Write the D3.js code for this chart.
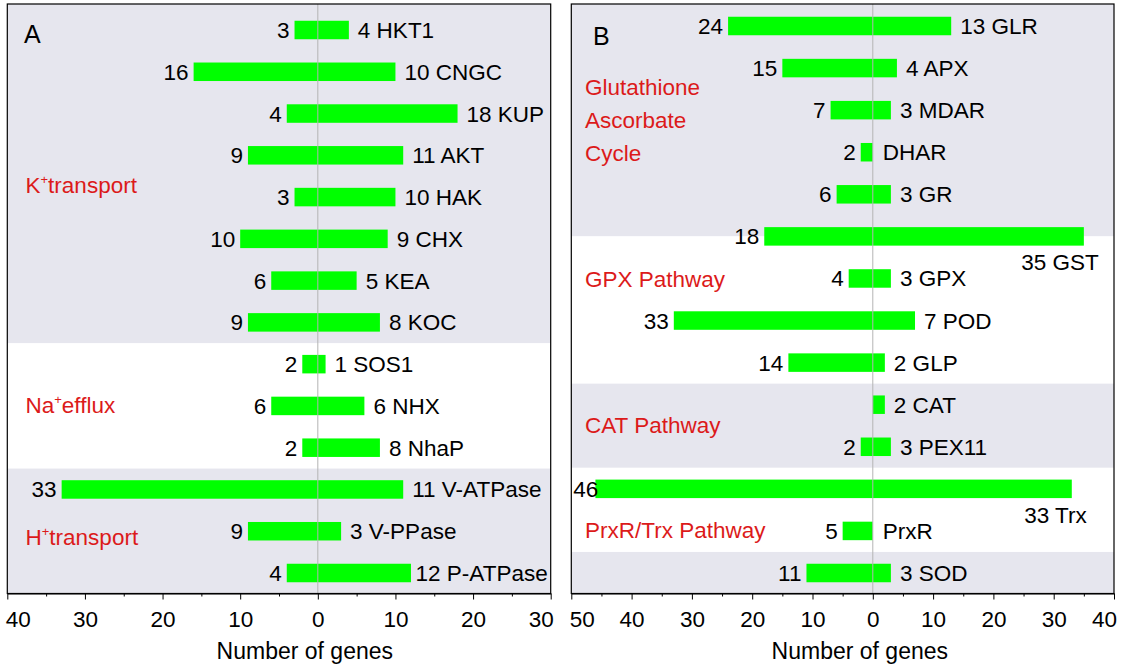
<!DOCTYPE html>
<html><head><meta charset="utf-8">
<script src="https://cdn.jsdelivr.net/npm/d3@7"></script>
<style>body{margin:0;background:#fff}svg{display:block}text{font-family:"Liberation Sans",Arial,sans-serif}</style>
</head><body><svg id="c" width="1121" height="668"></svg>
<script>
// ---- data ----
const namesA = ["HKT1","CNGC","KUP","AKT","HAK","CHX","KEA","KOC","SOS1","NHX","NhaP","V-ATPase","V-PPase","P-ATPase"];
const leftA  = [3,16,4,9,3,10,6,9,2,6,2,33,9,4];
const rightA = [4,10,18,11,10,9,5,8,1,6,8,11,3,12];
const groupNamesA = ["K+transport","Na+efflux","H+transport"];

const namesB = ["GLR","APX","MDAR","DHAR","GR","GST","GPX","POD","GLP","CAT","PEX11","Trx","PrxR","SOD"];
const leftB  = [24,15,7,2,6,18,4,33,14,0,2,46,5,11];
const rightB = [13,4,3,0,3,35,3,7,2,2,3,33,0,3];
const groupNamesB = ["Glutathione\nAscorbate\nCycle","GPX Pathway","CAT Pathway","PrxR/Trx Pathway",""];

const ticksA = [-40,-30,-20,-10,0,10,20,30];
const ticksB = [-50,-40,-30,-20,-10,0,10,20,30,40];
const axisTitle = "Number of genes";

// ---- layout ----
const svg = d3.select("#c");
svg.append("rect").attr("width",1121).attr("height",668).attr("fill","#fff");
const FS = 22.5, RED = "#dc1a1a", GRAY = "#e6e6ee", GREEN = "#00ff00";

const panels = [
  {id:"A", names:namesA, left:leftA, right:rightA, groups:groupNamesA, ticks:ticksA,
   x0:7.3, x1:550.7, top:4, bottom:593.5, rowRange:[30,573],
   bands:[[null,7.5,true],[7.5,10.5,false],[10.5,null,true]],
   labelRows:[3.9,9.17,12.33], labelX:25.5, letterX:24, letterY:42.7},
  {id:"B", names:namesB, left:leftB, right:rightB, groups:groupNamesB, ticks:ticksB,
   x0:571.3, x1:1114, top:4, bottom:593.5, rowRange:[26,573],
   bands:[[null,5,true],[5,8.5,false],[8.5,10.5,true],[10.5,12.5,false],[12.5,null,true]],
   labelRows:[1.64,6.2,9.68,12.17,null], labelX:585, letterX:593, letterY:45}
];

panels.forEach(p => {
  const xs = d3.scaleLinear().domain([p.ticks[0], p.ticks[p.ticks.length-1]]).range([p.x0, p.x1]);
  const ys = d3.scaleLinear().domain([0, p.names.length-1]).range(p.rowRange);
  const g = svg.append("g");
  const barH = 18.5;

  // background bands
  p.bands.forEach(b => {
    const yA = b[0]===null ? p.top : ys(b[0]);
    const yB = b[1]===null ? p.bottom : ys(b[1]);
    g.append("rect").attr("x",p.x0).attr("y",yA).attr("width",p.x1-p.x0).attr("height",yB-yA)
      .attr("fill", b[2] ? GRAY : "#fff");
  });

  const rows = p.names.map((n,i)=>({name:n, l:p.left[i], r:p.right[i], i}));

  // bars
  g.selectAll("rect.bar").data(rows).join("rect").attr("class","bar")
    .attr("x", d=>xs(-d.l)).attr("width", d=>xs(d.r)-xs(-d.l))
    .attr("y", d=>ys(d.i)-barH/2).attr("height", barH).attr("fill", GREEN);

  // zero line
  g.append("line").attr("x1",xs(0)).attr("x2",xs(0)).attr("y1",p.top).attr("y2",p.bottom)
    .attr("stroke","#b4b4b4").attr("stroke-width",1);

  // left numbers
  g.selectAll("text.ln").data(rows.filter(d=>d.l>0)).join("text").attr("class","ln")
    .attr("font-size",FS).attr("text-anchor","end").attr("fill","#000")
    .attr("y", d=>ys(d.i)+8).text(d=>d.l)
    .each(function(d){
      const w = this.getComputedTextLength();
      let x = xs(-d.l) - 5;
      if (x - w < p.x0 + 2) x = p.x0 + 2 + w;
      d3.select(this).attr("x", x);
    });

  // right labels
  g.selectAll("text.rn").data(rows).join("text").attr("class","rn")
    .attr("font-size",FS).attr("fill","#000")
    .text(d => (d.r>0 ? d.r+" " : "") + d.name)
    .each(function(d){
      const w = this.getComputedTextLength();
      const end = xs(d.r);
      let x = end + (d.r>0 ? 9 : 10);
      const sel = d3.select(this);
      if (x + w > p.x1 - 3) {
        const sq = p.x1 - 3 - w;
        if (sq >= end) { sel.attr("x", sq).attr("y", ys(d.i)+8); return; }
        sel.attr("text-anchor","end").attr("x", end + 15).attr("y", ys(d.i)+34);
        return;
      }
      sel.attr("x", x).attr("y", ys(d.i)+8);
    });

  // group labels
  p.groups.forEach((name,k) => {
    if (!name || p.labelRows[k]===null) return;
    const y0 = ys(p.labelRows[k]);
    if (name.includes("\n")) {
      name.split("\n").forEach((line,j) => {
        g.append("text").attr("x",p.labelX).attr("y",y0 + j*33).attr("font-size",FS)
          .attr("fill",RED).text(line);
      });
    } else if (name.includes("+")) {
      const parts = name.split("+");
      const t = g.append("text").attr("x",p.labelX).attr("y",y0).attr("font-size",FS).attr("fill",RED);
      t.append("tspan").text(parts[0]);
      t.append("tspan").attr("font-size",13).attr("dy",-9).text("+");
      t.append("tspan").attr("font-size",FS).attr("dy",9).text(parts[1]);
    } else {
      g.append("text").attr("x",p.labelX).attr("y",y0).attr("font-size",FS).attr("fill",RED).text(name);
    }
  });

  // panel letter
  g.append("text").attr("x",p.letterX).attr("y",p.letterY).attr("font-size",25).attr("fill","#000").text(p.id);

  // frame
  g.append("rect").attr("x",p.x0).attr("y",p.top).attr("width",p.x1-p.x0).attr("height",p.bottom-p.top)
    .attr("fill","none").attr("stroke","#000").attr("stroke-width",1.2);

  // axis
  const lo = p.ticks[0], hi = p.ticks[p.ticks.length-1];
  const ax = d3.axisBottom(xs).tickValues(d3.range(lo, hi+1, 5)).tickSize(6).tickSizeOuter(0)
    .tickFormat(d => d%10===0 ? Math.abs(d) : "");
  const ag = g.append("g").attr("transform",`translate(0,${p.bottom})`).call(ax);
  ag.select(".domain").attr("stroke","#000").attr("stroke-width",1.2);
  ag.selectAll(".tick line").attr("stroke","#000").attr("y2", d => d%10===0 ? 6 : 3);
  ag.selectAll(".tick text").attr("font-size",FS).attr("font-family","'Liberation Sans',Arial,sans-serif")
    .attr("fill","#000").attr("y",18)
    .each(function(d){
      const s = d3.select(this);
      if (d===lo) s.attr("text-anchor","start").attr("x",-2);
      if (d===hi) s.attr("text-anchor","end").attr("x",2.5);
    });

  g.append("text").attr("x", xs(0)-13).attr("y",659).attr("text-anchor","middle")
    .attr("font-size",23).attr("fill","#000").text(axisTitle);
});
</script></body></html>
